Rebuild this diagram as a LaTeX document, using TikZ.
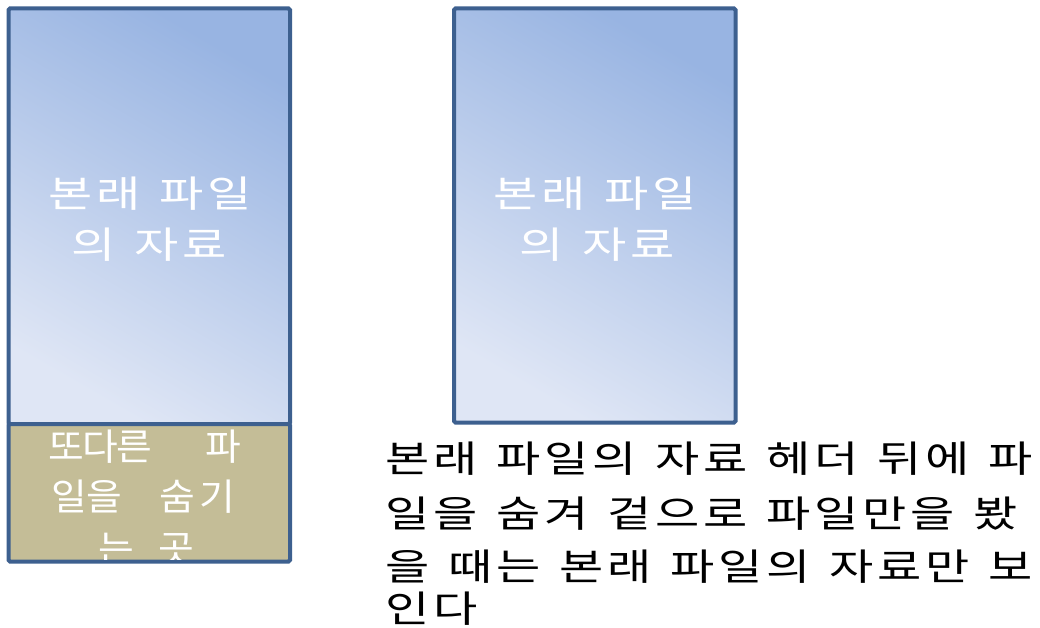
\documentclass[tikz,border=0pt]{standalone}
\usepackage{fontspec}
\usepackage{graphicx}
\newfontfamily\kfont{Noto Sans CJK KR}
\definecolor{edge}{RGB}{61,96,143}
\definecolor{gtop}{RGB}{152,180,226}
\definecolor{gbot}{RGB}{223,230,245}
\definecolor{tanfill}{RGB}{196,189,151}
\makeatletter
\newcommand\kw[1]{\@tfor\kch:=#1\do{\makebox[48pt][l]{\scalebox{1.3}[1]{\kch}}}}
\newcommand\kt[2]{\@tfor\kch:=#2\do{\makebox[#1][l]{\scalebox{1.05}[1]{\kch}}}}
\makeatother
\newcommand\kg{\hspace{15pt}}
\begin{document}
\begin{tikzpicture}[x=1pt,y=-1pt,
  panel/.style={draw=edge,line width=4pt,rounded corners=1.5pt,inner sep=0pt,outer sep=0pt},
  grad/.style={top color=gtop,bottom color=gbot,shading angle=-30},
  boxtxt/.style={text=white,font=\kfont\fontsize{37}{37}\selectfont,inner sep=0pt,anchor=west},
  captxt/.style={text=black,font=\kfont\fontsize{37}{37}\selectfont,inner sep=0pt,anchor=west}]
\useasboundingbox (0,0) rectangle (1040,628);
\fill[white] (0,0) rectangle (1040,628);
% boxes
\node[panel,grad,minimum width=281.5pt,minimum height=415.5pt] (origtop) at (149.25,216.25) {};
\node[panel,fill=tanfill,minimum width=281.5pt,minimum height=137.5pt] (hidden) at (149.25,492.75) {};
\node[panel,grad,minimum width=281.5pt,minimum height=414pt] (plain) at (594.75,215.5) {};
% box texts
\node[boxtxt] (o1) at (48,194) {\kw{본래}\kg\kw{파일}};
\node[boxtxt] (o2) at (71,245) {\kw{의}\kg\kw{자료}};
\node[boxtxt] (p1) at (493,194) {\kw{본래}\kg\kw{파일}};
\node[boxtxt] (p2) at (519,245) {\kw{의}\kg\kw{자료}};
\begin{scope}
\clip (10.5,426) rectangle (288,559.5);
\node[boxtxt] (h1) at (48,447) {\kt{34pt}{또다른}\hspace{55pt}\kt{34pt}{파}};
\node[boxtxt] (h2) at (51,497) {\kt{35pt}{일을}\hspace{38pt}\kt{40pt}{숨기}};
\node[boxtxt] (h3) at (98,549) {\kt{35pt}{는}\hspace{25pt}\kt{35pt}{곳}};
\end{scope}
% caption
\node[captxt] (c1) at (385,459) {\kw{본래}\kg\kw{파일의}\kg\kw{자료}\kg\kw{헤더}\kg\kw{뒤에}\kg\kw{파}};
\node[captxt] (c2) at (385,514) {\kw{일을}\kg\kw{숨겨}\kg\kw{겉으로}\kg\kw{파일만을}\kg\kw{봤}};
\node[captxt] (c3) at (385,567) {\kw{을}\kg\kw{때는}\kg\kw{본래}\kg\kw{파일의}\kg\kw{자료만}\kg\kw{보}};
\node[captxt] (c4) at (385,609) {\kw{인다}};
\end{tikzpicture}
\end{document}
